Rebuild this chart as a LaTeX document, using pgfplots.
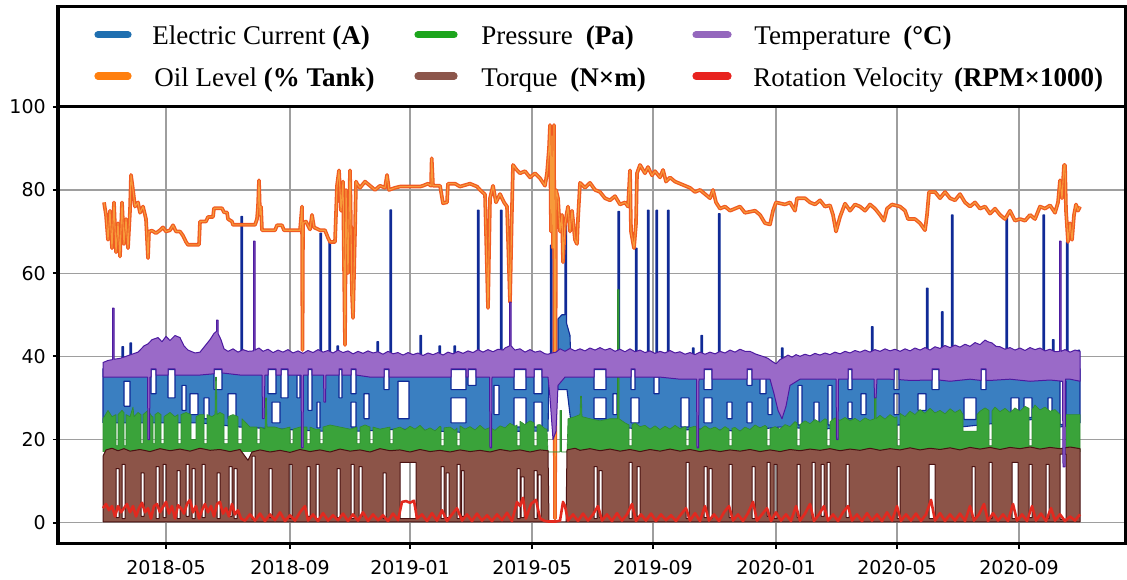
\documentclass[border=0pt]{standalone}
\usepackage{pgfplots}
\pgfplotsset{compat=1.18}
\usepackage{fontspec}
\setmainfont{Liberation Serif}
\newfontfamily\dejavu{DejaVu Sans}
\definecolor{cblue}{HTML}{3A7FC1}
\definecolor{cnavy}{HTML}{102A96}
\definecolor{corange}{HTML}{F05A22}
\definecolor{corangeL}{HTML}{F79A3A}
\definecolor{cgreen}{HTML}{3AA33A}
\definecolor{cgreenD}{HTML}{2E8B2E}
\definecolor{cbrown}{HTML}{8C5448}
\definecolor{cbrownD}{HTML}{4A1212}
\definecolor{cpurple}{HTML}{9A6AC8}
\definecolor{cpurpleD}{HTML}{4C1AA0}
\definecolor{cred}{HTML}{E2291F}
\definecolor{lblue}{HTML}{1F6FB0}
\definecolor{lorange}{HTML}{FF7F0E}
\definecolor{lgreen}{HTML}{1CA51C}
\definecolor{lbrown}{HTML}{8C564B}
\definecolor{lpurple}{HTML}{9467BD}
\definecolor{lred}{HTML}{E8231F}
\begin{document}
\begin{tikzpicture}
\path[use as bounding box] (-29pt,-17.85pt) rectangle (534.5pt,271.65pt);
\begin{axis}[
 at={(0pt,0pt)}, anchor=south west,
 width=534pt, height=218.3pt, scale only axis,
 xmin=58, xmax=1126, ymin=-4.95, ymax=100,
 xtick={166,290,410,532,653,776,897,1019},
 xticklabels={2018-05,2018-09,2019-01,2019-05,2019-09,2020-01,2020-05,2020-09},
 ytick={0,20,40,60,80,100}, yticklabels={0,20,40,60,80,100},
 tick pos=left, tick align=outside, major tick length=2.6pt,
 tick style={line width=0.9pt, black},
 grid=major, major grid style={line width=0.6pt, color=black!38},
 axis line style={line width=1.6pt},
 ticklabel style={font=\dejavu\fontsize{9.5}{11}\selectfont},
 xticklabel style={yshift=-2.3pt},
 unbounded coords=jump,
]
% Electric Current
\addplot[draw=cnavy, fill=cblue, line width=0.55pt, even odd rule, line join=round] coordinates {
(103,24)(103,37)(122,37)(122,42.3)(123.5,42.3)(123.5,37)(130,37)(130,43.2)(131.5,43.2)(131.5,37)
(241,37)(241,73.6)(242.5,73.6)(242.5,37)(320,37)(320,69.6)(321.5,69.6)(321.5,37)
(329,37)(329,67.5)(330.5,67.5)(330.5,37)(337,37)(337,42.5)(338.5,42.5)(338.5,37)
(377,37)(377,43.5)(378.5,43.5)(378.5,37)(390,37)(390,75.2)(391.5,75.2)(391.5,37)
(420,37)(420,45)(421.5,45)(421.5,37)(439,37)(439,42.5)(440.5,42.5)(440.5,37)
(454,37)(454,42.5)(455.5,42.5)(455.5,37)(477.5,37)(477.5,75.1)(479,75.1)(479,37)
(500.5,37)(500.5,75.1)(502,75.1)(502,37)(550.5,37)(550.5,66.7)(552,66.7)(552,37)
(558,37)(558,49)(562,50)(565,50)(565,72)(566.5,72)(566.5,48)(570,45)(571,37)
(618,37)(618,74.8)(619.5,74.8)(619.5,37)(635.5,37)(635.5,66)(637,66)(637,37)
(647.5,37)(647.5,75.1)(649,75.1)(649,37)(656,37)(656,75.1)(657.5,75.1)(657.5,37)
(667.5,37)(667.5,75.1)(669,75.1)(669,37)(692.5,37)(692.5,42)(694,42)(694,37)
(701,37)(701,45)(702.5,45)(702.5,37)(718.5,37)(718.5,74.3)(720,74.3)(720,37)
(781.5,37)(781.5,42)(783,42)(783,37)(871.5,37)(871.5,47.1)(873,47.1)(873,37)
(926.5,37)(926.5,56.4)(928,56.4)(928,37)(941.5,37)(941.5,50.7)(943,50.7)(943,37)
(951.5,37)(951.5,74)(953,74)(953,37)(1006,37)(1006,73.6)(1007.5,73.6)(1007.5,37)
(1043,37)(1043,74)(1044.5,74)(1044.5,37)(1052.5,37)(1052.5,44)(1054,44)(1054,37)
(1066.5,37)(1066.5,67.5)(1068,67.5)(1068,37)(1078,37)(1078,41.5)(1079.5,41.5)(1079.5,37)(1080,37)
(1080,24)(1060,23)(1040,25)(1000,24)(960,23)(900,23.5)(860,23)(820,22.5)(780,23)(740,22)(700,22.5)
(660,22)(620,23)(590,23.5)(571,24)(567,32)(558,32)(557,37)(549,37)(548,22)(520,22)(480,21.5)(440,22)
(400,22.5)(360,22)(320,22)(280,22.5)(240,23)(200,24)(160,24)(120,24)(103,24)
(0,nan)(124,28)(124,34)(130,34)(130,28)(124,28)
(0,nan)(151,31)(151,36.8)(156,36.8)(156,31)(151,31)
(0,nan)(168,30)(168,36.8)(175,36.8)(175,30)(168,30)
(0,nan)(182,27)(182,33)(186,33)(186,27)(182,27)
(0,nan)(190,26)(190,31)(198,31)(198,26)(190,26)
(0,nan)(204,25)(204,30)(209,30)(209,25)(204,25)
(0,nan)(214,32)(214,36.8)(222,36.8)(222,32)(214,32)
(0,nan)(228,25)(228,31)(236,31)(236,25)(228,25)
(0,nan)(268,31)(268,36.8)(276,36.8)(276,31)(268,31)
(0,nan)(272,24)(272,29)(280,29)(280,24)(272,24)
(0,nan)(281,30)(281,36.8)(288,36.8)(288,30)(281,30)
(0,nan)(297,30)(297,35.5)(300,35.5)(300,30)(297,30)
(0,nan)(308,27)(308,36.8)(312,36.8)(312,27)(308,27)
(0,nan)(317,22.8)(317,29)(320,29)(320,22.8)(317,22.8)
(0,nan)(339,30)(339,36.8)(342,36.8)(342,30)(339,30)
(0,nan)(351,31)(351,36.8)(356,36.8)(356,31)(351,31)
(0,nan)(351,23)(351,29)(356,29)(356,23)(351,23)
(0,nan)(364,25)(364,31)(369,31)(369,25)(364,25)
(0,nan)(384,32)(384,36.8)(389,36.8)(389,32)(384,32)
(0,nan)(398,25)(398,34)(409,34)(409,25)(398,25)
(0,nan)(451,32)(451,36.8)(466,36.8)(466,32)(451,32)
(0,nan)(451,24)(451,30)(466,30)(466,24)(451,24)
(0,nan)(468,33)(468,36.8)(476,36.8)(476,33)(468,33)
(0,nan)(494,26)(494,33)(499,33)(499,26)(494,26)
(0,nan)(514,32)(514,36.8)(526,36.8)(526,32)(514,32)
(0,nan)(514,23)(514,30)(526,30)(526,23)(514,23)
(0,nan)(534,31)(534,36.8)(542,36.8)(542,31)(534,31)
(0,nan)(534,23)(534,29)(542,29)(542,23)(534,23)
(0,nan)(594,32)(594,36.8)(606,36.8)(606,32)(594,32)
(0,nan)(594,25)(594,30)(606,30)(606,25)(594,25)
(0,nan)(613,26)(613,31)(617,31)(617,26)(613,26)
(0,nan)(631,32)(631,36.8)(635,36.8)(635,32)(631,32)
(0,nan)(631,24)(631,30)(639,30)(639,24)(631,24)
(0,nan)(654,31)(654,35)(659,35)(659,31)(654,31)
(0,nan)(681,23)(681,30)(689,30)(689,23)(681,23)
(0,nan)(704,32)(704,36.8)(712,36.8)(712,32)(704,32)
(0,nan)(704,24)(704,30)(712,30)(712,24)(704,24)
(0,nan)(727,25)(727,29)(732,29)(732,25)(727,25)
(0,nan)(747,33)(747,36.8)(752,36.8)(752,33)(747,33)
(0,nan)(747,24)(747,29)(752,29)(752,24)(747,24)
(0,nan)(760,31)(760,35)(766,35)(766,31)(760,31)
(0,nan)(768,26)(768,30)(772,30)(772,26)(768,26)
(0,nan)(798,23.5)(798,33)(802,33)(802,23.5)(798,23.5)
(0,nan)(814,23.5)(814,29)(819,29)(819,23.5)(814,23.5)
(0,nan)(828,23.5)(828,33)(832,33)(832,23.5)(828,23.5)
(0,nan)(848,32)(848,36.8)(852,36.8)(852,32)(848,32)
(0,nan)(848,25)(848,29)(852,29)(852,25)(848,25)
(0,nan)(861,26)(861,31)(866,31)(866,26)(861,26)
(0,nan)(894,32)(894,36.8)(899,36.8)(899,32)(894,32)
(0,nan)(894,26)(894,31)(899,31)(899,26)(894,26)
(0,nan)(918,27)(918,31)(926,31)(926,27)(918,27)
(0,nan)(932,32)(932,36.8)(939,36.8)(939,32)(932,32)
(0,nan)(964,24.8)(964,30)(976,30)(976,24.8)(964,24.8)
(0,nan)(981,32)(981,36.8)(986,36.8)(986,32)(981,32)
(0,nan)(1011,25.2)(1011,30)(1019,30)(1019,25.2)(1011,25.2)
(0,nan)(1024,25.3)(1024,30)(1032,30)(1032,25.3)(1024,25.3)
(0,nan)(1048,25)(1048,30)(1052,30)(1052,25)(1048,25)
(0,nan)(1060,23.6)(1060,34)(1066,34)(1066,23.6)(1060,23.6)
};
% Oil Level
\addplot[draw=corange, double=corangeL, double distance=0.55pt, line width=0.65pt, line join=round] coordinates {
(104,77)(106,74)(108,68)(110,75)(112,66)(114,77)(116,65)(118,72)(120,64)(122,77)(124,67)(126,73)(128,66)(130,75)
(131,83.6)(133,80)(135,76)(138,77)(140,74.5)(143,76)(146,73)(148,63.6)(149,70)(152,70.2)(156,69.6)(160,70.3)
(163,71)(166,70)(170,70.3)(173,71.5)(176,70)(180,70)(183,69)(186,67.5)(188,66.8)(196,66.8)(199,66.8)(200,72.4)
(206,72.4)(208,73.5)(213,73.5)(214,75.6)(222,75.6)(224,74.6)(227,74.6)(228,73)(232,72.4)(233,71.6)(250,71.6)
(255,71.6)(257,73)(258,76)(259,82.3)(260,74)(261,76)(262,70.3)(275,70.3)(277,71.5)(282,71.5)(284,70.3)(300,70.3)
(302,76)(302.5,41.5)(303,72)(306,72.4)(310,70.5)(312,74)(314,71)(320,70.3)(325,70.3)(328,68.5)(330,67.5)(335,67.5)
(337,81)(339,84.7)(341,75)(343,82)(345,42.7)(346,80)(348,60)(350,84.7)(352,55)(353,49.2)(355,70)(356,82)(357,81.5)
(360,80.5)(365,82)(370,81)(375,80)(380,81)(385,80.5)(387,83.6)(389,80)(395,80.5)(400,80.8)(410,80.8)(420,80.8)
(423,81)(428,81.5)(431,81)(431.7,87.6)(433,81)(440,81)(443,76.8)(447,77)(448,81.5)(455,81.5)(460,80.8)(470,81.5)
(477,80.8)(480,80)(485,78.9)(488,51.6)(490,78)(493,81)(496,77)(500,79)(504,77)(507,76)(510,53)(512,76)(513,86)
(516,85)(520,84)(525,84.5)(530,83)(535,84)(540,82.8)(545,81)(547,84)(549,90)(550,95.6)(551,70)(552,93)(553,66)
(554,95.6)(555,1)(556,80)(558,78)(560,70)(562,74)(563,62.6)(565,72)(568,76)(570,70)(572,75)(575,68)(577,67)
(578,73)(580,81.7)(585,80.5)(590,81.7)(595,80)(600,79.5)(605,78)(610,77.5)(615,78.5)(620,76.5)(625,77)(628,76)
(630,84.7)(631,70)(634,66)(636,72)(637,84)(640,86)(645,84)(648,85.5)(652,83.5)(655,84.5)(660,83)(663,84.8)
(666,82)(670,83)(675,82)(680,81.5)(685,81)(690,80.5)(695,79.5)(700,80)(705,79)(710,78)(713,80)(716,77)(720,75.5)
(725,76)(730,75)(740,76)(745,74.5)(755,75)(760,74)(765,72)(770,71.7)(773,75)(776,77)(785,76.5)(790,77)(795,75)
(797,78)(805,78)(810,77)(815,76.5)(820,77.5)(825,76)(830,76.3)(833,74)(836,70)(840,73.5)(845,76.7)(850,75)
(855,76.5)(860,76)(865,75)(870,76.5)(875,75.5)(880,74)(884,72.6)(887,75.5)(892,76.5)(900,76)(905,75)(908,73)
(915,73)(920,72)(925,70.3)(927,74)(929,79.5)(935,79.5)(940,78)(945,79.5)(950,78)(955,77.5)(960,79)(965,77)
(970,76)(975,77)(980,75.5)(985,76)(990,74.3)(995,75.5)(1000,74)(1005,73)(1010,75)(1015,72.6)(1020,73)(1025,72.6)
(1030,74)(1035,73)(1040,76)(1045,75.5)(1050,76.3)(1055,74.5)(1058,77)(1060,82.3)(1062,78)(1064,86)(1065,86)
(1066,75)(1068,67.5)(1070,72)(1072,68)(1074,74)(1076,76.5)(1078,75)(1080,76)
};
% Pressure
\addplot[draw=cgreenD, fill=cgreen, line width=0.3pt, line join=round] coordinates {
(103,17)(103,25)(108,27)(112,25.5)(116,26)(116,18.5)(118,18.5)(118,26)(122,27)(124,26.5)(124,18.5)(126,18.5)(126,26)
(130,25.5)(133,27.8)(134,25.5)(138,26.5)(141,26)(141,19)(143,19)(143,26)(148,27)(152,25.5)(153,25.5)(153,19)(155,19)
(155,26)(158,26.5)(161,26)(161,19)(164,19)(164,25.5)(170,26.5)(175,25.5)(178,26)(178,19)(181,19)(181,26)(186,26.5)
(191,26)(191,20)(196,20)(196,25.5)(200,26)(204,26)(204,19)(207,19)(207,26)(212,25.5)(215,26)(215.5,35)(216.5,35)
(217,26)(220,26.5)(224,26)(224,19)(228,19)(228,25.5)(233,26)(238,25.5)(238,19)(242,19)(242,25)(246,24)(250,23)
(257,23)(257,19)(260,19)(260,23)(265,22.5)(265.5,30)(266.5,30)(267,23)(275,23)(282,22.5)(290,23)(290,19)(293,19)
(293,22.5)(300,23)(307,23)(307,19)(310,19)(310,23)(315,22.5)(320,22.5)(320,19)(323,19)(323,23)(330,23.5)(340,23)
(350,22.5)(357,23)(357,19)(360,19)(360,23)(365,23.5)(370,23)(370,19)(373,19)(373,23)(380,22.5)(390,23)(390,19)
(393,19)(393,22.5)
(400,23)(405,22.3)(410,23.2)(415,22.5)(420,23.4)(425,22.2)(430,22.8)(435,22.1)(440,23.2)(441,23)(441,18.5)(444,18.5)
(444,22.8)(450,23)(455,22.2)(457,22.8)(457,18.5)(460,18.5)(460,23.3)(465,22.5)(470,23.1)(475,22.3)(480,23.4)(485,22.4)
(490,22.9)(495,22.2)(500,23.3)(505,22.8)(510,23.9)(515,23.2)(517,23.5)(517,18.5)(520,18.5)(520,24.4)(525,23.6)
(530,24.5)(534,24)(534,18.5)(537,18.5)(537,23.5)(540,23.6)(545,22.6)(547,22.5)
(548,17)(560,17)(560,27)(561.5,27)(561.5,17)(567,17)(568,25)
(575,25.5)(580,26)(580.5,30.4)(581.5,30.4)(582,25.5)(590,25)(600,24.5)(610,25)(617.5,25)(617.5,56)(619,56)(619,25)
(625,24)(629,23.5)(629,18.5)(632,18.5)(632,23.5)(635,24)(640,23.1)(645,23.4)(650,22.5)(655,23.3)(660,22.4)(665,23.2)
(670,22.5)(675,23.4)(680,22.6)(685,23.1)(686,23)(686,18.5)(689,18.5)(689,22.8)(695,23.2)(700,22.4)(705,23.3)(710,22.5)
(715,23)(720,22.2)(725,23.1)(729,22.5)(729,18.5)(732,18.5)(732,22.7)(735,22.9)(740,22)(745,23)(750,22.4)(755,23.5)
(760,22.8)(765,23.4)(767,23)(767,18.5)(770,18.5)(770,22.6)(775,23.1)(780,22.5)(785,23.6)(790,23.1)(795,24.3)(797,24)
(797,18.5)(800,18.5)(800,23.6)(805,24.5)(810,23.8)(815,24.8)(820,24.1)(825,25)(827,24.7)(827,18.5)(830,18.5)(830,24.3)
(835,25.2)(840,24.6)(845,25.3)(850,24.5)(855,25.1)(860,24.3)(865,25.2)(870,24.6)(874.5,25)(874.5,32)(876,32)(876,25)
(880,25.8)(885,24.9)(890,26)(895,25.2)(897,25.5)(897,18.5)(900,18.5)(900,26.3)(905,25.5)(910,26.8)(915,26)(920,27.2)
(925,26.3)(930,27.5)(935,26.4)(940,27)(945,26.2)(950,27.4)(955,26.5)(960,27.2)(963,26)(963,22)(977,22)(977,26)
(980,26.8)(985,27.6)(989,27)(989,18.5)(992,18.5)(992,26.9)(995,27.8)(1000,26.7)(1005,27.5)(1010,26.5)(1015,27.6)
(1020,26.8)(1025,28)(1029,27.5)(1029,18.5)(1032,18.5)(1032,27.2)(1035,28.3)(1040,27.1)(1045,27.8)(1050,26.8)
(1055,27.2)(1060,26)(1060,17.2)(1066,17.2)(1066,26)(1080,26)(1080,17)
};
% Torque
\addplot[draw=cbrownD, fill=cbrown, line width=0.5pt, even odd rule, line join=round] coordinates {
(103,0.2)(103,16)(106,17.5)(112,17.9)(118,17.3)(124,17.8)(130,17.2)(140,17.6)(150,17.1)(160,17.8)(170,17.3)(180,17.7)
(190,17.2)(200,17.9)(210,17.4)(220,17.6)(230,17.1)(240,17.6)(248,15)(252,17)(260,17.5)(270,17)(280,17.4)(290,16.9)
(300,17.6)(310,17.1)(320,17.5)(330,17)(340,17.7)(350,17.2)(360,17.5)(370,17)(380,17.8)(390,17.3)(400,17.5)(410,17)
(420,17.6)(430,17.1)(440,17.4)(450,17)(460,17.5)(470,17.1)(480,17.4)(490,17)(500,17.6)(510,17.2)(520,17.5)(530,17)
(540,17.5)(548,17.3)(549,0.2)(566,0.2)(567,17.5)(575,17.9)(580,17.4)(590,17.8)(600,17.3)(610,17.7)(620,17.2)
(630,17.6)(640,17.1)(650,17.6)(660,17.2)(670,17.7)(680,17.2)(690,17.6)(700,17.1)(710,17.5)(720,17.1)(730,17.5)
(740,17.2)(750,17.6)(760,17.1)(770,17.5)(780,17.1)(790,17.6)(800,17.3)(810,17.7)(820,17.4)(830,17.8)(840,17.3)
(850,17.7)(860,17.4)(870,17.9)(880,17.4)(890,17.8)(900,17.5)(910,18)(920,17.5)(930,17.9)(940,17.6)(950,18)
(960,17.5)(970,18.1)(980,17.7)(990,18.1)(1000,17.6)(1010,18.1)(1020,17.8)(1030,18.2)(1040,17.7)(1050,18.1)(1060,17.8)
(1070,18.2)(1080,17.8)(1080,0.2)(103,0.2)
(0,nan)(116,1.2)(116,13)(119,13)(119,1.2)(116,1.2)
(0,nan)(122,1)(122,14)(125,14)(125,1)(122,1)
(0,nan)(141,1.5)(141,12)(144,12)(144,1.5)(141,1.5)
(0,nan)(156,1)(156,13.5)(159,13.5)(159,1)(156,1)
(0,nan)(163,1.2)(163,14)(166,14)(166,1.2)(163,1.2)
(0,nan)(177,1)(177,12.5)(180,12.5)(180,1)(177,1)
(0,nan)(186,1.5)(186,14)(189,14)(189,1.5)(186,1.5)
(0,nan)(192,1)(192,13)(195,13)(195,1)(192,1)
(0,nan)(202,1.2)(202,14)(205,14)(205,1.2)(202,1.2)
(0,nan)(217,1)(217,12)(220,12)(220,1)(217,1)
(0,nan)(229,1.5)(229,13.5)(232,13.5)(232,1.5)(229,1.5)
(0,nan)(234,1)(234,13)(237,13)(237,1)(234,1)
(0,nan)(252,0.8)(252,16)(255,16)(255,0.8)(252,0.8)
(0,nan)(269,1.2)(269,13)(272,13)(272,1.2)(269,1.2)
(0,nan)(289,1)(289,14)(292,14)(292,1)(289,1)
(0,nan)(307,1.5)(307,13.5)(310,13.5)(310,1.5)(307,1.5)
(0,nan)(316,1)(316,14)(319,14)(319,1)(316,1)
(0,nan)(337,1.2)(337,13)(340,13)(340,1.2)(337,1.2)
(0,nan)(351,1)(351,14)(354,14)(354,1)(351,1)
(0,nan)(359,1.5)(359,13.5)(362,13.5)(362,1.5)(359,1.5)
(0,nan)(383,1)(383,12)(386,12)(386,1)(383,1)
(0,nan)(400,1)(400,14.5)(416,14.5)(416,1)(400,1)
(0,nan)(441,1)(441,13.5)(444,13.5)(444,1)(441,1)
(0,nan)(446,1.2)(446,12)(449,12)(449,1.2)(446,1.2)
(0,nan)(457,1)(457,14)(460,14)(460,1)(457,1)
(0,nan)(461.5,1.5)(461.5,12.5)(464,12.5)(464,1.5)(461.5,1.5)
(0,nan)(517,1)(517,13)(520,13)(520,1)(517,1)
(0,nan)(521,1.2)(521,11)(524,11)(524,1.2)(521,1.2)
(0,nan)(534,1)(534,12.5)(537,12.5)(537,1)(534,1)
(0,nan)(538,1.5)(538,11.5)(541,11.5)(541,1.5)(538,1.5)
(0,nan)(594,1)(594,13.5)(597,13.5)(597,1)(594,1)
(0,nan)(599,1.2)(599,12.5)(602,12.5)(602,1.2)(599,1.2)
(0,nan)(629,1)(629,14.5)(632,14.5)(632,1)(629,1)
(0,nan)(637,1.5)(637,13.5)(640,13.5)(640,1.5)(637,1.5)
(0,nan)(686,1)(686,14.5)(689,14.5)(689,1)(686,1)
(0,nan)(704,1.2)(704,13.5)(707,13.5)(707,1.2)(704,1.2)
(0,nan)(709,1)(709,13)(712,13)(712,1)(709,1)
(0,nan)(729,1.2)(729,14)(732,14)(732,1.2)(729,1.2)
(0,nan)(752,1)(752,13.5)(755,13.5)(755,1)(752,1)
(0,nan)(767,1.5)(767,14.5)(770,14.5)(770,1.5)(767,1.5)
(0,nan)(774,1)(774,14)(777,14)(777,1)(774,1)
(0,nan)(797,1.2)(797,14)(800,14)(800,1.2)(797,1.2)
(0,nan)(812,1)(812,14.5)(815,14.5)(815,1)(812,1)
(0,nan)(821,1.5)(821,14)(824,14)(824,1.5)(821,1.5)
(0,nan)(827,1)(827,14.5)(830,14.5)(830,1)(827,1)
(0,nan)(846,1.2)(846,14)(849,14)(849,1.2)(846,1.2)
(0,nan)(897,1)(897,13.5)(900,13.5)(900,1)(897,1)
(0,nan)(929,1)(929,14)(935,14)(935,1)(929,1)
(0,nan)(972,1.2)(972,13.5)(975,13.5)(975,1.2)(972,1.2)
(0,nan)(989,1)(989,14.5)(992,14.5)(992,1)(989,1)
(0,nan)(1012,1)(1012,14.5)(1018,14.5)(1018,1)(1012,1)
(0,nan)(1029,1.2)(1029,14)(1032,14)(1032,1.2)(1029,1.2)
(0,nan)(1046,1)(1046,14)(1049,14)(1049,1)(1046,1)
(0,nan)(1060,0.8)(1060,16.5)(1066,16.5)(1066,0.8)(1060,0.8)
};
% Temperature
\addplot[draw=cpurpleD, fill=cpurple, line width=0.5pt, line join=round] coordinates {
(103,35)(103,38.5)(108,39)(112.5,39.2)(112.5,51.6)(114,51.6)(114,39.3)(120,39.5)(126,40)(132,40.5)(138,41)
(144,42.5)(148,43)(152,44)(158,44.5)(162,43.5)(166,44.8)(170,43.8)(175,45)(180,44.5)(184,42.5)(188,41.5)(195,40.8)
(200,41)(205,42.5)(210,44)(214,45.5)(216.5,46)(216.5,48.7)(218,48.7)(218,45.5)(221,44)(224,41.8)(228,41.2)(233,41.8)
(238,41)(243,41.6)(248,41.2)(253.5,41.3)(253.5,67.7)(255,67.7)(255,41.5)(259,42)(263,41.2)(268,41.7)(273,40.9)
(278,41.5)(283,41)(288,41.6)(293,40.8)(298,41.3)(303,40.7)(308,41.4)(313,40.9)(318,41.6)(323,41)(328,41.4)(333,40.8)
(338,41.5)(343,40.9)(348,41.3)(353,40.6)(358,41.2)(363,40.7)(368,41.3)(373,40.8)(378,41.1)(383,40.5)(388,41.2)
(393,40.6)(398,40.9)(403,40.3)(408,40.9)(413,40.4)(418,40.8)(423,40.2)(428,40.8)(433,40.4)(438,40.9)(443,40.3)
(448,41)(453,40.6)(458,41.2)(463,40.7)(468,41.3)(473,40.9)(478,41.6)(483,41)(488,41.6)(493,41.1)(498,41.7)(503,41.5)
(505,42)(509.5,42.5)(509.5,53)(511,53)(511,42.5)(515,41.5)(520,41.8)(525,41)(530,41.6)(535,41)(540,41.3)(545,40.6)
(548,40.5)(552,40.8)(556,41)(560,41.8)(565,41.2)(570,41.9)(575,41.3)(580,41.8)(585,41.3)(590,42)(595,41.5)(600,42.1)
(605,41.5)(610,41.9)(615,41.2)(620,41.7)(625,41.1)(630,41.8)(635,41.1)(640,41.5)(645,40.9)(650,41.3)(655,40.7)
(660,41.2)(665,40.8)(670,41.4)(675,40.8)(680,41.1)(685,40.5)(690,40.9)(695,40.4)(700,41)(705,40.5)(710,41)(715,40.6)
(720,41.2)(725,40.8)(730,41.5)(735,41)(740,41.7)(745,41.2)(750,41.2)(755,40.6)(760,40.2)(765,39.8)(768,39.5)
(772,38.8)(776,38.2)(780,39.2)(784,39.7)(788,40.3)(792,39.8)(796,40.4)(800,40)(805,40.5)(810,40.1)(815,40.7)
(820,40.3)(825,40.8)(830,40.4)(835,41)(840,40.6)(845,41.2)(850,40.8)(855,41.4)(860,41)(865,41.5)(870,41)(875,41.6)
(880,41.2)(885,41.8)(890,41.3)(895,41.7)(900,41.2)(905,41.8)(910,41.3)(915,42)(920,41.5)(925,42.1)(930,41.5)
(935,42.3)(940,41.9)(945,42.6)(950,42.1)(955,42.7)(960,42.2)(965,42.9)(970,42.4)(975,43.3)(980,42.8)(985,43.9)
(988,43.5)(992,43.2)(996,42.4)(1000,42.3)(1005,41.7)(1010,42.1)(1015,41.5)(1020,42)(1025,41.4)(1030,42.1)(1035,41.6)
(1040,42)(1045,41.3)(1050,41.7)(1055,41.1)(1059.5,41.2)(1059.5,67.7)(1061,67.7)(1061,41.2)(1065,41.6)(1070,41)
(1075,41.5)(1080,41.2)
(1080,34)(1070,34.5)(1065.5,34.5)(1065,13.4)(1063,13.4)(1062.5,34)(1050,34.3)(1030,34)(1010,34.5)(990,34.2)
(986,34.2)(986,37)(981,37)(981,34.2)(970,34.5)(950,34)(939,34.3)(939,37)(932,37)(932,34.3)(910,34.2)
(899,34.4)(899,37)(894,37)(894,34.4)(890,34.5)(877,34.5)(876,30)(874.5,30)(874,34.5)(860,34.5)
(852,34.5)(852,37)(848,37)(848,34.5)(840,34.5)(838.5,34.5)(838,20)(836.5,20)(836,34.5)(820,34.5)(800,34.5)
(790,33)(786,28)(782,25)(778,27)(774,31)(770,34.5)(752,34.5)(752,37)(747,37)(747,34.5)(730,34.5)
(712,34.5)(712,37)(704,37)(704,34.5)(699,34.5)(698.5,18)(697,18)(696.5,34.5)(680,34.5)(660,35)(640,35)
(635,35)(635,37)(631,37)(631,35)(620,35)(606,35)(606,37)(594,37)(594,35)(580,35)(565,35)(558,33)(556,22)
(553,20)(550,30)(548,35)(542,35)(542,37)(534,37)(534,35)(530,35)(526,35)(526,37)(514,37)(514,35)(510,35)
(492,35)(491.5,18)(490,18)(489.5,35)(476,35)(476,37)(468,37)(468,35)(466,35)(466,37)(451,37)(451,35)
(430,35)(410,35)(390,35)(389,35)(389,37)(384,37)(384,35)(370,35)(356,35.5)(356,37)(351,37)(351,35.5)
(342,35.5)(342,37)(339,37)(339,35.5)(330,35.5)(326,35.5)(325.5,29)(324,29)(323.5,35.5)(312,35.5)(312,37)
(308,37)(308,35.5)(303.5,35.5)(303,18)(301.5,18)(301,35.5)(288,35.5)(288,37)(281,37)(281,35.5)(276,35.5)
(276,37)(268,37)(268,35.5)(265,35.5)(264,25)(262.5,25)(262,35.5)(240,35.5)(222,36)(222,37)(214,37)(214,35.8)
(200,35.5)(180,35.5)(175,35.5)(175,37)(168,37)(168,35.5)(160,35.5)(156,35.5)(156,37)(151,37)(151,35)(150,35)
(149.5,20)(148,20)(147.5,35)(130,35)(110,35)(103,35)
};
% Rotation Velocity
\addplot[draw=cred, line width=1.3pt, line join=round] coordinates {
(103,3.5)(106,4.5)(109,3)(112,4)(115,1.5)(118,4)(121,2.5)(124,3.5)(127,4.5)(130,2.5)(133,4)(136,1.5)(139,3.5)
(142,4.8)(145,2.5)(148,3.5)(151,1)(154,4)(157,4.5)(160,2.5)(163,3.8)(166,5)(169,2.2)(172,4)(175,1)(178,4.2)
(181,3.5)(184,2.2)(187,4.5)(190,5.5)(193,2.5)(196,4)(199,1)(202,3)(205,4.5)(208,2.5)(211,4)(214,1.5)(217,4.5)
(220,5)(223,2.2)(226,3.5)(229,1.5)(232,4.5)(235,2)(238,3)(241,1)(245,0.5)(250,2)(255,0.5)(260,2.2)(265,0.4)
(270,2)(275,0.6)(280,2.5)(285,0.4)(290,1.8)(295,0.5)(300,2.5)(305,4)(308,0.5)(313,2)(318,0.4)(323,2.3)(328,0.5)
(333,1.8)(338,0.6)(343,2.2)(348,0.4)(353,2)(358,0.5)(363,2.5)(368,0.4)(373,2)(378,0.6)(383,1.8)(388,0.4)(393,2.2)
(398,0.6)(402,5)(406,5.2)(410,4.8)(414,5.3)(417,1)(422,2)(427,0.4)(432,2.3)(437,0.5)(442,3)(447,0.4)(452,2)
(457,3.5)(462,0.5)(467,2)(472,0.4)(477,2.2)(482,0.5)(487,1.8)(492,0.4)(497,2)(502,0.6)(507,2.4)(512,0.4)(517,5)
(520,4)(523,6)(526,1)(531,4.5)(536,5.5)(540,1)(545,0.4)(548,0.3)(556,0.3)(560,0.5)(563,5)(565,4)(568,0.5)(573,2)
(578,0.4)(583,2.2)(588,0.5)(593,2)(598,4)(602,0.5)(607,2)(612,0.4)(617,2.3)(622,0.5)(627,2)(632,4.5)(636,0.4)
(641,2)(646,0.5)(651,2.2)(656,0.4)(661,2)(666,0.6)(671,1.8)(676,0.4)(681,2)(686,3.5)(690,0.5)(695,2.3)(700,0.4)
(705,4)(709,0.5)(714,2)(719,0.4)(724,2.5)(729,4)(733,0.5)(738,2)(743,0.4)(748,2.3)(753,5)(757,0.5)(762,2)
(767,3.5)(771,0.4)(776,2.5)(781,0.5)(786,2)(791,0.4)(796,4)(800,0.5)(805,2.2)(810,4.5)(814,0.4)(819,2)(824,4)
(828,0.5)(833,2)(838,0.4)(843,2.5)(848,4)(852,0.5)(857,2)(862,0.4)(867,2.3)(872,0.5)(877,2)(882,0.4)(887,2.5)
(892,0.5)(897,4)(901,0.4)(906,2)(911,0.5)(916,2.2)(921,0.4)(926,2)(931,5.5)(935,0.5)(940,2.3)(945,0.4)(950,2)
(955,0.5)(960,2.2)(965,0.4)(970,4)(974,0.5)(979,2)(984,4.5)(988,0.4)(993,2.3)(998,0.5)(1003,2)(1008,0.4)
(1013,4.5)(1017,0.5)(1022,2)(1027,0.4)(1032,4)(1036,0.5)(1041,2.2)(1046,0.4)(1051,3.5)(1055,0.5)(1060,2)
(1065,0.4)(1070,1.5)(1075,0.5)(1080,2)
};
\end{axis}
% legend box
\draw[line width=1.6pt] (0pt,218.3pt) rectangle (534pt,268.5pt);
\begin{scope}[line width=3.6pt, line cap=round]
\draw[lblue] (20pt,254.2pt) -- (35pt,254.2pt);
\draw[lgreen] (180pt,254.2pt) -- (198pt,254.2pt);
\draw[lpurple] (319pt,254.2pt) -- (335pt,254.2pt);
\draw[lorange] (20pt,233.6pt) -- (35pt,233.6pt);
\draw[lbrown] (180pt,233.6pt) -- (198pt,233.6pt);
\draw[lred] (319pt,233.6pt) -- (335pt,233.6pt);
\end{scope}
\begin{scope}[every node/.style={anchor=base west, inner sep=0pt, font=\fontsize{13.5}{15}\selectfont}]
\node at (47pt,249.2pt) {Electric Current \textbf{(A)}};
\node at (211.5pt,249.2pt) {Pressure\hspace{6.5pt}\textbf{(Pa)}};
\node at (348pt,249.2pt) {Temperature\hspace{6.5pt}\textbf{(°C)}};
\node at (48pt,228.2pt) {Oil Level \textbf{(\% Tank)}};
\node at (211.5pt,228.2pt) {Torque\hspace{6.5pt}\textbf{(N×m)}};
\node at (347.5pt,228.2pt) {Rotation Velocity\hspace{5.5pt}\textbf{(RPM×1000)}};
\end{scope}
\end{tikzpicture}
\end{document}
